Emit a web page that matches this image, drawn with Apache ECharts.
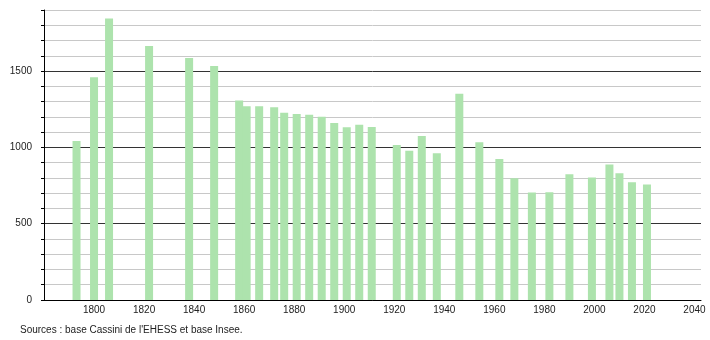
<!DOCTYPE html>
<html>
<head>
<meta charset="utf-8">
<script src="https://cdn.jsdelivr.net/npm/echarts@6/dist/echarts.min.js"></script>
<style>html,body{margin:0;padding:0;background:#fff}#c{width:710px;height:340px}</style>
</head>
<body>
<div id="c"></div>
<script>
const years = [1793, 1800, 1806, 1822, 1838, 1848, 1858, 1861, 1866, 1872, 1876, 1881, 1886, 1891, 1896, 1901, 1906, 1911, 1921, 1926, 1931, 1937, 1946, 1954, 1962, 1968, 1975, 1982, 1990, 1999, 2006, 2010, 2015, 2021];
const population = [1041, 1460, 1845, 1664, 1585, 1533, 1307, 1270, 1270, 1263, 1226, 1219, 1214, 1201, 1160, 1131, 1149, 1134, 1015, 978, 1074, 962, 1351, 1033, 923, 798, 704, 706, 824, 802, 888, 831, 772, 757];
const xTickLabels = [1800, 1820, 1840, 1860, 1880, 1900, 1920, 1940, 1960, 1980, 2000, 2020, 2040];
const yTickLabels = [0, 500, 1000, 1500];
const sourceText = "Sources : base Cassini de l'EHESS et base Insee.";

const chart = echarts.init(document.getElementById('c'), null, {renderer: 'canvas'});
const font = 'Liberation Sans, Arial, sans-serif';
chart.setOption({
  animation: false,
  grid: {left: 44, right: 9, top: 10, bottom: 40, containLabel: false},
  xAxis: {
    type: 'value', min: 1780, max: 2042.6, interval: 20,
    axisLine: {show: true, lineStyle: {color: '#000', width: 1}},
    axisTick: {show: false},
    splitLine: {show: false},
    axisLabel: {
      color: '#222', fontSize: 10, fontFamily: font, margin: 5,
      formatter: v => xTickLabels.includes(Math.round(v)) && Math.abs(v - Math.round(v)) < 1e-6 ? String(Math.round(v)) : ''
    }
  },
  yAxis: {
    type: 'value', min: 0, max: 1900, interval: 100,
    axisLine: {show: true, lineStyle: {color: '#000', width: 1}},
    axisTick: {show: true, length: 3, lineStyle: {color: '#000'}},
    splitLine: {show: true, lineStyle: {color: ['#333', '#c8c8c8', '#c8c8c8', '#c8c8c8', '#c8c8c8'], width: 1}},
    axisLabel: {
      color: '#222', fontSize: 10, fontFamily: font, margin: 12,
      formatter: v => yTickLabels.includes(v) ? String(v) : ''
    }
  },
  graphic: [{
    type: 'text', left: 20, top: 325,
    style: {text: sourceText, fill: '#222', font: '10px ' + font}
  }],
  series: [{
    type: 'bar',
    barWidth: 8,
    itemStyle: {color: '#ade3ad'},
    data: years.map((y, i) => [y, population[i]])
  }]
});
</script>
</body>
</html>
